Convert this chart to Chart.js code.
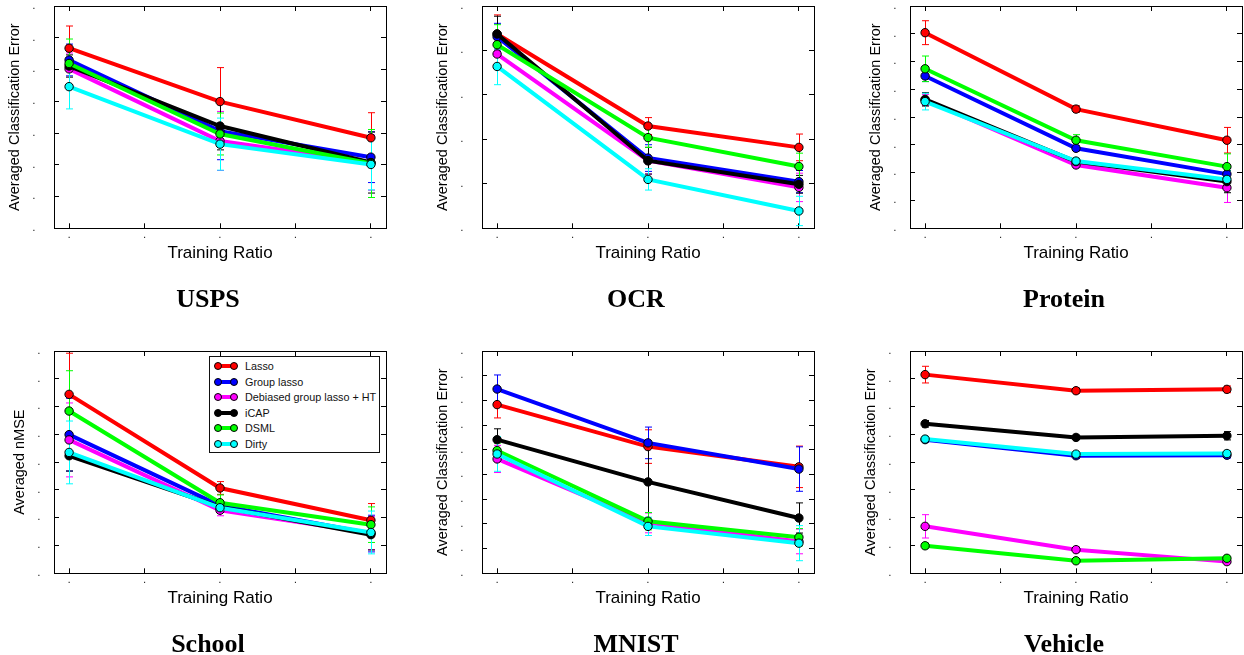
<!DOCTYPE html>
<html>
<head>
<meta charset="utf-8">
<script src="https://cdn.jsdelivr.net/npm/chart.js@4.4.1/dist/chart.umd.min.js"></script>
<style>
    html, body { margin: 0; padding: 0; background: #fff; overflow: hidden; width: 1244px; height: 655px; }
    .panel { position: absolute; width: 416px; height: 320px; }
    #legend {
        position: absolute; left: 209px; top: 356px; width: 171px; height: 97px;
        box-sizing: border-box; border: 1px solid #111; background: #fff;
        font: 10.8px "Liberation Sans", Arial, sans-serif; color: #111;
    }
    #legend .row { position: absolute; left: 0; height: 14px; width: 100%; }
    #legend .ln { position: absolute; left: 7px; top: 5px; width: 17px; height: 4px; }
    #legend .dot { position: absolute; top: 3px; width: 8px; height: 8px; border-radius: 50%; border: 1px solid #000; box-sizing: border-box; }
    #legend .txt { position: absolute; left: 35px; top: 0; line-height: 14px; white-space: nowrap; }
</style>
</head>
<body>
<div id="wrap"></div>
<div id="legend"></div>
<script>
// series and categories
const methods = ["Lasso", "Group lasso", "Debiased group lasso + HT", "iCAP", "DSML", "Dirty"];
const colors = ["#ff0000", "#0000ff", "#ff00ff", "#000000", "#00ff00", "#00ffff"];
const ratioIdx = [0, 1, 2];
const xTicks = [0, 0.5, 1, 1.5, 2];

// values, in tick units (one row per method)
const uspsMean = [[5.67, 3.99, 2.85], [5.30, 3.06, 2.24], [5.02, 2.75, 2.07], [5.11, 3.22, 2.07], [5.19, 2.97, 2.04], [4.46, 2.65, 2.01]];
const uspsErr  = [[0.70, 1.07, 0.79], [0.50, 0.90, 0.80], [0.50, 0.93, 0.87], [0.35, 0.75, 0.96], [0.77, 0.66, 1.07], [0.70, 0.82, 0.80]];

const ocrMean = [[4.37, 2.30, 1.82], [4.31, 1.58, 1.05], [3.92, 1.52, 0.92], [4.37, 1.52, 0.99], [4.13, 2.04, 1.39], [3.64, 1.10, 0.39]];
const ocrErr  = [[0.43, 0.19, 0.30], [0.30, 0.30, 0.25], [0.25, 0.30, 0.32], [0.40, 0.30, 0.20], [0.45, 0.22, 0.30], [0.41, 0.24, 0.33]];

const proteinMean = [[7.04, 4.29, 3.17], [5.48, 2.88, 1.95], [4.62, 2.28, 1.46], [4.64, 2.40, 1.68], [5.74, 3.17, 2.22], [4.56, 2.42, 1.76]];
const proteinErr  = [[0.43, 0.12, 0.46], [0.20, 0.10, 0.20], [0.20, 0.10, 0.53], [0.24, 0.10, 0.40], [0.46, 0.20, 0.46], [0.30, 0.10, 0.30]];

const schoolMean = [[6.44, 3.07, 1.91], [4.99, 2.44, 1.43], [4.80, 2.27, 1.45], [4.23, 2.39, 1.39], [5.84, 2.54, 1.75], [4.35, 2.36, 1.47]];
const schoolErr  = [[1.48, 0.23, 0.60], [1.31, 0.12, 0.66], [1.33, 0.20, 0.60], [0.55, 0.15, 0.55], [1.45, 0.28, 0.64], [1.13, 0.15, 0.77]];

const mnistMean = [[6.83, 5.13, 4.31], [7.46, 5.28, 4.22], [4.63, 2.04, 1.29], [5.41, 3.70, 2.24], [4.97, 2.11, 1.46], [4.83, 1.90, 1.22]];
const mnistErr  = [[0.54, 0.68, 0.84], [0.57, 0.64, 0.90], [0.55, 0.40, 0.50], [0.44, 1.55, 0.61], [0.30, 0.35, 0.35], [0.70, 0.37, 0.71]];

const vehicleMean = [[7.15, 6.57, 6.62], [4.81, 4.23, 4.25], [1.69, 0.85, 0.42], [5.38, 4.89, 4.95], [0.99, 0.45, 0.54], [4.83, 4.29, 4.31]];
const vehicleErr  = [[0.30, 0.10, 0.12], [0.10, 0.10, 0.10], [0.42, 0.10, 0.06], [0.12, 0.08, 0.15], [0.10, 0.06, 0.06], [0.10, 0.08, 0.10]];

const accTitle = "Averaged Classification Error";

const panels = [
    { name: "USPS",    yTitle: accTitle,        yMax: 7, mean: uspsMean,    err: uspsErr,    shift: 0 },
    { name: "OCR",     yTitle: accTitle,        yMax: 5, mean: ocrMean,     err: ocrErr,     shift: 0 },
    { name: "Protein", yTitle: accTitle,        yMax: 8, mean: proteinMean, err: proteinErr, shift: 5 },
    { name: "School",  yTitle: "Averaged nMSE", yMax: 8, mean: schoolMean,  err: schoolErr,  shift: 5 },
    { name: "MNIST",   yTitle: accTitle,        yMax: 9, mean: mnistMean,   err: mnistErr,   shift: 0 },
    { name: "Vehicle", yTitle: accTitle,        yMax: 8, mean: vehicleMean, err: vehicleErr, shift: 0 }
];

const SANS = '"Liberation Sans", Arial, sans-serif';
const SERIF = '"Liberation Serif", "Times New Roman", serif';

// vertical error bars, drawn under the lines
const errorBars = {
    id: "errorBars",
    beforeDatasetsDraw(chart) {
        const { ctx, chartArea, scales: { x, y } } = chart;
        ctx.save();
        ctx.beginPath();
        ctx.rect(chartArea.left, chartArea.top, chartArea.right - chartArea.left, chartArea.bottom - chartArea.top);
        ctx.clip();
        ctx.lineWidth = 1;
        chart.data.datasets.forEach((ds) => {
            ctx.strokeStyle = ds.borderColor;
            ds.data.forEach((p, j) => {
                const e = ds.errors[j];
                const px = Math.round(x.getPixelForValue(p.x)) + 0.5;
                const yTop = y.getPixelForValue(p.y + e);
                const yBot = y.getPixelForValue(p.y - e);
                ctx.beginPath();
                ctx.moveTo(px, yTop); ctx.lineTo(px, yBot);
                ctx.moveTo(px - 3.5, yTop); ctx.lineTo(px + 3.5, yTop);
                ctx.moveTo(px - 3.5, yBot); ctx.lineTo(px + 3.5, yBot);
                ctx.stroke();
            });
        });
        ctx.restore();
    }
};

// keep the tick labels from pushing the plot box around
function noPad(s) {
    s.paddingTop = 0; s.paddingBottom = 0; s.paddingLeft = 0; s.paddingRight = 0;
}

function buildPanel(p, idx) {
    const col = idx % 3, row = Math.floor(idx / 3);
    const div = document.createElement("div");
    div.className = "panel";
    div.style.left = (428 * col) + "px";
    div.style.top = (row ? 345 : 0) + "px";
    const canvas = document.createElement("canvas");
    canvas.width = 416; canvas.height = 320;
    div.appendChild(canvas);
    document.getElementById("wrap").appendChild(div);

    const datasets = methods.map((m, i) => ({
        label: m,
        data: ratioIdx.map((r, j) => ({ x: r, y: p.mean[i][j] })),
        errors: p.err[i],
        borderColor: colors[i],
        backgroundColor: colors[i],
        pointBackgroundColor: colors[i],
        pointBorderColor: "#000",
        pointBorderWidth: 1,
        pointRadius: 4.2,
        borderWidth: 4,
        tension: 0,
        order: methods.length - 1 - i
    }));

    const innerGrid = { drawOnChartArea: false, tickLength: -5, color: "#000", lineWidth: 1 };

    new Chart(canvas, {
        type: "line",
        data: { datasets },
        plugins: [errorBars],
        options: {
            responsive: false,
            animation: false,
            layout: { autoPadding: false, padding: { top: 6, left: 0, right: 0, bottom: 0 } },
            plugins: {
                legend: { display: false },
                tooltip: { enabled: false },
                title: {
                    display: true, text: p.name, position: "bottom", color: "#000",
                    font: { family: SERIF, size: 26, weight: "bold", lineHeight: 1.2 },
                    padding: { top: 0, bottom: 4 }
                }
            },
            scales: {
                x: {
                    type: "linear", position: "bottom", min: -0.1, max: 2.1,
                    afterBuildTicks: (s) => { s.ticks = xTicks.map(v => ({ value: v })); },
                    ticks: { callback: () => ".", color: "#000", font: { family: SANS, size: 10 }, padding: 6, autoSkip: false, maxRotation: 0 },
                    grid: innerGrid,
                    border: { color: "#000", width: 1 },
                    title: { display: true, text: "Training Ratio", color: "#000", font: { family: SANS, size: 17, lineHeight: 1.2 }, padding: { top: 0, bottom: 21 } },
                    afterFit: (s) => { s.height = 56.5; noPad(s); }
                },
                x2: {
                    type: "linear", position: "top", min: -0.1, max: 2.1,
                    afterBuildTicks: (s) => { s.ticks = xTicks.map(v => ({ value: v })); },
                    ticks: { display: false },
                    grid: innerGrid,
                    border: { color: "#000", width: 1 },
                    afterFit: (s) => { s.height = 0; noPad(s); }
                },
                y: {
                    type: "linear", position: "left", min: 0, max: p.yMax,
                    ticks: { stepSize: 1, callback: () => ".", color: "#000", font: { family: SANS, size: 10 }, padding: 23.6 - p.shift },
                    grid: innerGrid,
                    border: { color: "#000", width: 1 },
                    title: { display: true, text: p.yTitle, color: "#000", font: { family: SANS, size: 14.5, lineHeight: 1.2 }, padding: { top: 5.8 + p.shift, bottom: 0 } },
                    afterFit: (s) => { s.width = 54; noPad(s); }
                },
                y2: {
                    type: "linear", position: "right", min: 0, max: p.yMax,
                    ticks: { display: false, stepSize: 1 },
                    grid: innerGrid,
                    border: { color: "#000", width: 1 },
                    afterFit: (s) => { s.width = 30; noPad(s); }
                }
            }
        }
    });
}

panels.forEach(buildPanel);

// legend inside the School panel
const legend = document.getElementById("legend");
methods.forEach((m, i) => {
    const row = document.createElement("div");
    row.className = "row";
    row.style.top = (2 + i * 15.5) + "px";
    row.innerHTML =
        '<span class="ln" style="background:' + colors[i] + '"></span>' +
        '<span class="dot" style="left:3.5px;background:' + colors[i] + '"></span>' +
        '<span class="dot" style="left:20px;background:' + colors[i] + '"></span>' +
        '<span class="txt"></span>';
    row.querySelector(".txt").textContent = m;
    legend.appendChild(row);
});
</script>
</body>
</html>
